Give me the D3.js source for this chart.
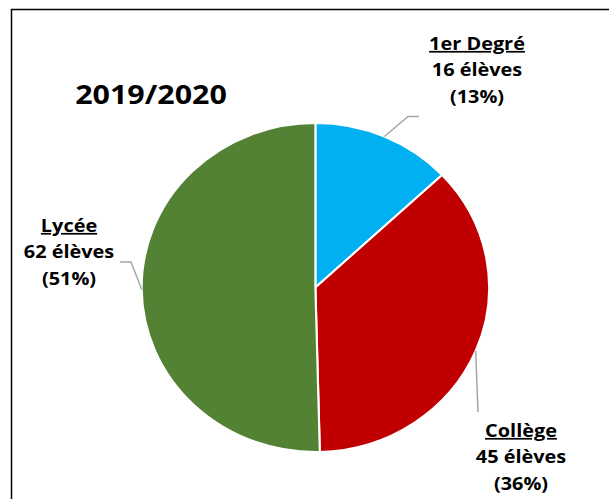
<!DOCTYPE html>
<html><head><meta charset="utf-8">
<script src="https://cdn.jsdelivr.net/npm/d3@7"></script>
<style>body{margin:0;background:#fff}svg{display:block}</style>
</head><body>
<svg id="c" width="609" height="499"></svg>
<script>
const title = "2019/2020";
const categories = ["1er Degré", "Collège", "Lycée"];
const values = [16, 45, 62];
const percentLabels = ["13%", "36%", "51%"];
const colors = ["#00b0f0", "#c00000", "#548235"];

const svg = d3.select("#c");
const W = 609, H = 499;
svg.append("rect").attr("width", W).attr("height", H).attr("fill", "#fff");
// frame (left and top visible)
svg.append("path").attr("d", `M11.5,${H} L11.5,9.5 L${W},9.5`)
  .attr("fill", "none").attr("stroke", "#000").attr("stroke-width", 1.5);

const cx = 315.4, cy = 287.5, r = 164.5, sx = 1.056;
const pie = d3.pie().sort(null).value(d => d)(values);
const arc = d3.arc().innerRadius(0).outerRadius(r);
const g = svg.append("g").attr("transform", `translate(${cx},${cy}) scale(${sx},1)`);
g.selectAll("path").data(pie).join("path")
  .attr("d", arc).attr("fill", (d, i) => colors[i])
  .attr("stroke", "#fff").attr("stroke-width", 2);

const font = "'Open Sans', Lato, sans-serif";
const tx = 1.17; // horizontal stretch of text
svg.append("g").attr("transform", `translate(151,104) scale(${tx},1)`)
  .append("text").attr("text-anchor", "middle")
  .attr("font-family", font).attr("font-weight", 700).attr("font-size", 26)
  .attr("fill", "#000").text(title);

// label placement (anchor centre x, first baseline y, leader elbow)
const labelPos = [
  {x: 477, y: 50, elbow: [[408, 116.5], [419, 116.5]]},
  {x: 521, y: 437, elbow: [[478, 412]]},
  {x: 69, y: 232, elbow: [[131, 262], [120, 262]]}
];
const leader = d3.line();
pie.forEach((d, i) => {
  const a = (d.startAngle + d.endAngle) / 2;
  const p0 = [cx + sx * r * Math.sin(a), cy - r * Math.cos(a)];
  svg.append("path").attr("d", leader([p0, ...labelPos[i].elbow]))
    .attr("fill", "none").attr("stroke", "#a6a6a6").attr("stroke-width", 1.5);
  const t = svg.append("g").attr("transform", `translate(${labelPos[i].x},${labelPos[i].y}) scale(${tx},1)`)
    .append("text").attr("text-anchor", "middle")
    .attr("font-family", font).attr("font-weight", 700).attr("font-size", 17).attr("fill", "#000");
  const lines = [categories[i], values[i] + " élèves", "(" + percentLabels[i] + ")"];
  lines.forEach((s, k) => {
    const ts = t.append("tspan").attr("x", 0).attr("y", k * 26.5).text(s);
    if (k === 0) ts.attr("text-decoration", "underline");
  });
});
</script>
</body></html>
